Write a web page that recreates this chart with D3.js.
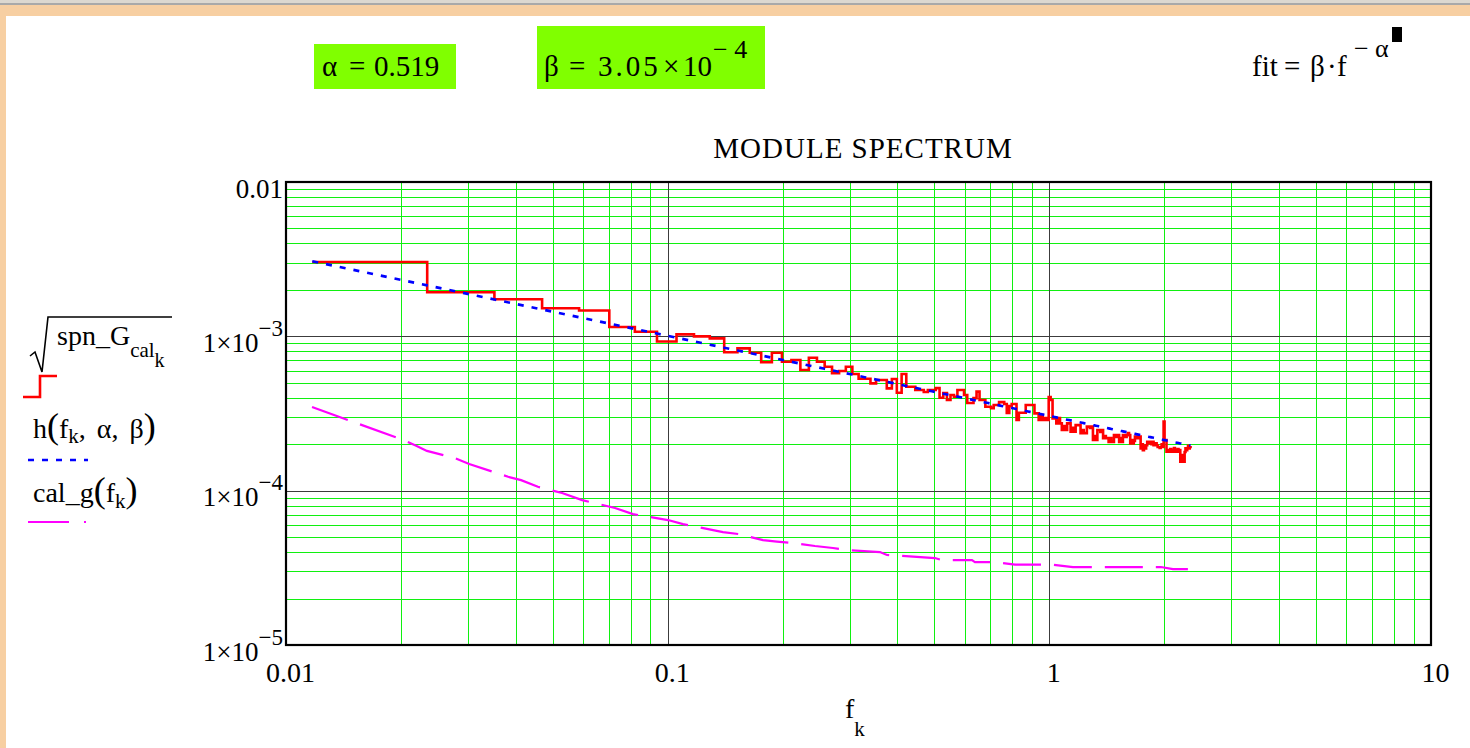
<!DOCTYPE html>
<html>
<head>
<meta charset="utf-8">
<script src="https://cdn.jsdelivr.net/npm/d3@7"></script>
<style>
  html, body { margin: 0; padding: 0; background: #fff; }
  svg { display: block; font-family: "Liberation Serif", "Times New Roman", serif; }
</style>
</head>
<body>
<svg id="chart" width="1470" height="748"></svg>
<script>
// ---- fit parameters ----
const alpha = 0.519;
const beta = 3.05e-4;

// ---- frequency grid: f_k = k * df ----
const df = 0.01172;

// sqrt(spn_G_cal_k) at each f_k, k = 1..200
const spnG = [
  3.03e-3, 1.93e-3, 1.74e-3, 1.52e-3, 1.47e-3, 1.15e-3, 1.07e-3, 9.25e-4, 1.03e-3, 1.00e-3,
  9.70e-4, 7.88e-4, 8.36e-4, 7.83e-4, 6.79e-4, 7.83e-4, 6.85e-4, 7.02e-4, 6.05e-4, 7.27e-4,
  6.85e-4, 6.35e-4, 5.76e-4, 5.96e-4, 6.35e-4, 5.70e-4, 5.31e-4, 5.31e-4, 4.96e-4, 5.21e-4,
  5.21e-4, 4.60e-4, 5.29e-4, 4.31e-4, 5.70e-4, 4.71e-4, 4.71e-4, 4.49e-4, 4.49e-4, 4.36e-4,
  4.49e-4, 4.49e-4, 4.62e-4, 4.00e-4, 4.29e-4, 3.87e-4, 4.17e-4, 4.06e-4, 4.49e-4, 4.49e-4,
  4.17e-4, 3.70e-4, 3.70e-4, 3.98e-4, 4.38e-4, 3.87e-4, 3.87e-4, 3.50e-4, 3.50e-4, 3.42e-4,
  3.59e-4, 3.59e-4, 3.75e-4, 3.75e-4, 3.64e-4, 3.19e-4, 3.53e-4, 3.64e-4, 3.64e-4, 2.87e-4,
  3.20e-4, 3.20e-4, 3.20e-4, 3.59e-4, 3.59e-4, 3.59e-4, 3.59e-4, 3.17e-4, 3.17e-4, 2.87e-4,
  3.09e-4, 2.87e-4, 2.95e-4, 2.87e-4, 4.04e-4, 3.87e-4, 2.94e-4, 2.94e-4, 2.73e-4, 2.95e-4,
  2.73e-4, 2.47e-4, 2.62e-4, 2.47e-4, 2.73e-4, 2.73e-4, 2.41e-4, 2.55e-4, 2.41e-4, 2.66e-4,
  2.66e-4, 2.66e-4, 2.36e-4, 2.47e-4, 2.36e-4, 2.36e-4, 2.60e-4, 2.60e-4, 2.55e-4, 2.60e-4,
  2.13e-4, 2.26e-4, 2.13e-4, 2.47e-4, 2.47e-4, 2.40e-4, 2.47e-4, 2.19e-4, 2.26e-4, 2.19e-4,
  2.19e-4, 2.07e-4, 2.19e-4, 2.07e-4, 2.07e-4, 2.29e-4, 2.29e-4, 2.23e-4, 2.29e-4, 2.07e-4,
  2.19e-4, 2.07e-4, 2.29e-4, 2.29e-4, 2.23e-4, 2.29e-4, 2.36e-4, 2.29e-4, 2.02e-4, 2.13e-4,
  2.02e-4, 2.10e-4, 2.24e-4, 2.24e-4, 2.19e-4, 2.24e-4, 2.24e-4, 1.88e-4, 2.00e-4, 1.83e-4,
  1.95e-4, 1.88e-4, 1.97e-4, 2.07e-4, 2.03e-4, 2.07e-4, 2.07e-4, 2.00e-4, 2.07e-4, 1.97e-4,
  1.97e-4, 2.03e-4, 1.97e-4, 1.92e-4, 1.92e-4, 1.89e-4, 1.92e-4, 2.00e-4, 1.92e-4, 2.80e-4,
  2.13e-4, 2.13e-4, 1.79e-4, 1.79e-4, 1.83e-4, 1.79e-4, 1.86e-4, 1.79e-4, 1.83e-4, 1.79e-4,
  1.89e-4, 1.79e-4, 1.83e-4, 1.79e-4, 1.86e-4, 1.79e-4, 1.83e-4, 1.54e-4, 1.70e-4, 1.54e-4,
  1.63e-4, 1.54e-4, 1.78e-4, 1.88e-4, 1.83e-4, 1.88e-4, 1.95e-4, 1.88e-4, 1.91e-4, 1.88e-4
];

// cal_g(f) calibration curve: frequencies and values
const calFreq = [0.0117, 0.0200, 0.0220, 0.0234, 0.0276, 0.0302, 0.0382, 0.0413, 0.0457, 0.0529,
                 0.0597, 0.0728, 0.0811, 0.1002, 0.1097, 0.1396, 0.1537, 0.1777, 0.1933, 0.2130,
                 0.2432, 0.2711, 0.2968, 0.3599, 0.3754, 0.5015, 0.5232, 0.6270, 0.6385, 0.7248,
                 0.8126, 1.016, 1.153, 1.961, 2.108, 2.307];
const calVal  = [3.48e-4, 2.16e-4, 1.95e-4, 1.81e-4, 1.63e-4, 1.49e-4, 1.23e-4, 1.17e-4, 1.06e-4, 9.65e-5,
                 8.69e-5, 7.72e-5, 7.05e-5, 6.45e-5, 6.07e-5, 5.39e-5, 5.23e-5, 4.78e-5, 4.68e-5, 4.58e-5,
                 4.38e-5, 4.25e-5, 4.12e-5, 4.00e-5, 3.83e-5, 3.66e-5, 3.55e-5, 3.55e-5, 3.44e-5, 3.44e-5,
                 3.32e-5, 3.32e-5, 3.20e-5, 3.20e-5, 3.10e-5, 3.10e-5];

// axis domains and tick labels
const xDomain = [0.01, 10];
const yDomain = [1e-5, 1e-2];
const xTickValues = [0.01, 0.1, 1, 10];
const xTickLabels = ["0.01", "0.1", "1", "10"];
const yTickValues = [1e-5, 1e-4, 1e-3, 1e-2];
const yTickBase = ["1\u00D710", "1\u00D710", "1\u00D710", "0.01"];
const yTickExp  = ["\u22125", "\u22124", "\u22123", ""];

const chartTitle = "MODULE SPECTRUM";

// ---------------------------------------------------------------
const W = 1470, H = 748;
const svg = d3.select("#chart");

// window frame
svg.append("rect").attr("width", W).attr("height", H).attr("fill", "#f7cfa2");
svg.append("rect").attr("width", W).attr("height", 3).attr("fill", "#dcd8d0");
svg.append("rect").attr("y", 3).attr("width", W).attr("height", 2).attr("fill", "#a9a9a9");
svg.append("rect").attr("x", 6).attr("y", 16).attr("width", W - 6).attr("height", H - 16).attr("fill", "#fff");

const P = { l: 286, r: 1431, t: 182, b: 645 };
const x = d3.scaleLog().domain(xDomain).range([P.l, P.r]);
const y = d3.scaleLog().domain(yDomain).range([P.b, P.t]);

// ---- grid ----
const grid = svg.append("g").attr("shape-rendering", "crispEdges");
const isDecade = v => Math.abs(Math.log10(v) - Math.round(Math.log10(v))) < 1e-9;
const xt = x.ticks().filter(v => v > xDomain[0] * 1.0001 && v < xDomain[1] * 0.9999);
const yt = y.ticks().filter(v => v > yDomain[0] * 1.0001 && v < yDomain[1] * 0.9999);
const minorColor = "#10f010", majorColor = "#3c3c3c";

grid.append("g").selectAll("line").data(xt.filter(v => !isDecade(v))).join("line")
  .attr("x1", d => Math.round(x(d)) + 0.5).attr("x2", d => Math.round(x(d)) + 0.5)
  .attr("y1", P.t).attr("y2", P.b).attr("stroke", minorColor).attr("stroke-width", 1);
grid.append("g").selectAll("line").data(yt.filter(v => !isDecade(v))).join("line")
  .attr("y1", d => Math.round(y(d)) + 0.5).attr("y2", d => Math.round(y(d)) + 0.5)
  .attr("x1", P.l).attr("x2", P.r).attr("stroke", minorColor).attr("stroke-width", 1);
grid.append("g").selectAll("line").data(xt.filter(isDecade)).join("line")
  .attr("x1", d => Math.round(x(d)) + 0.5).attr("x2", d => Math.round(x(d)) + 0.5)
  .attr("y1", P.t).attr("y2", P.b).attr("stroke", majorColor).attr("stroke-width", 1);
grid.append("g").selectAll("line").data(yt.filter(isDecade)).join("line")
  .attr("y1", d => Math.round(y(d)) + 0.5).attr("y2", d => Math.round(y(d)) + 0.5)
  .attr("x1", P.l).attr("x2", P.r).attr("stroke", majorColor).attr("stroke-width", 1);

// ---- series ----
const freqs = spnG.map((_, i) => (i + 1) * df);
const measured = freqs.map((f, i) => [f, spnG[i]]);
const fitted = freqs.map(f => [f, beta * Math.pow(f, -alpha)]);
const calib = calFreq.map((f, i) => [f, calVal[i]]);

svg.append("clipPath").attr("id", "plotClip")
  .append("rect").attr("x", P.l).attr("y", P.t).attr("width", P.r - P.l).attr("height", P.b - P.t);
const series = svg.append("g").attr("clip-path", "url(#plotClip)");

const line = d3.line().x(d => x(d[0])).y(d => y(d[1]));
const stepLine = d3.line().curve(d3.curveStepAfter).x(d => x(d[0])).y(d => y(d[1]));

series.append("path").datum(calib).attr("d", line)
  .attr("fill", "none").attr("stroke", "#ff00ff").attr("stroke-width", 2.2)
  .attr("stroke-dasharray", "38,13");
series.append("path").datum(measured).attr("d", stepLine)
  .attr("fill", "none").attr("stroke", "#ff0000").attr("stroke-width", 2.6)
  .attr("stroke-linejoin", "miter");
series.append("path").datum(fitted).attr("d", line)
  .attr("fill", "none").attr("stroke", "#0000ff").attr("stroke-width", 2.6)
  .attr("stroke-dasharray", "6,8");

// ---- plot border ----
svg.append("rect").attr("x", P.l).attr("y", P.t).attr("width", P.r - P.l).attr("height", P.b - P.t)
  .attr("fill", "none").attr("stroke", "#000").attr("stroke-width", 2.2);

// ---- axes (labels only) ----
const gy = svg.append("g").attr("transform", `translate(${P.l},0)`)
  .call(d3.axisLeft(y).tickValues(yTickValues).tickSize(0).tickPadding(3).tickFormat(() => ""));
gy.attr("font-family", null).attr("font-size", 27);
gy.select(".domain").remove();
gy.selectAll(".tick text").attr("fill", "#000").attr("dy", "0.56em").each(function (d, i) {
  const t = d3.select(this);
  t.text(null);
  t.append("tspan").text(yTickBase[i]);
  if (yTickExp[i]) t.append("tspan").attr("font-size", 23).attr("dy", -16).text(yTickExp[i]);
});

const gx = svg.append("g").attr("transform", `translate(0,${P.b})`)
  .call(d3.axisBottom(x).tickValues(xTickValues).tickSize(0).tickFormat((d, i) => xTickLabels[i]));
gx.attr("font-family", null).attr("font-size", 28);
gx.select(".domain").remove();
gx.selectAll(".tick text").attr("fill", "#000").attr("dy", null).attr("y", 37).attr("dx", 4);

// axis title f_k
const xTitle = svg.append("text").attr("x", 845).attr("y", 718).attr("font-size", 28);
xTitle.append("tspan").text("f");
xTitle.append("tspan").attr("font-size", 21).attr("dy", 18).text("k");

// chart title
svg.append("text").attr("x", 863).attr("y", 158).attr("text-anchor", "middle")
  .attr("font-size", 29).attr("letter-spacing", 1).text(chartTitle);

// ---- parameter boxes ----
svg.append("rect").attr("x", 314).attr("y", 44).attr("width", 142).attr("height", 45).attr("fill", "#80ff00");
const ta = svg.append("text").attr("y", 76).attr("font-size", 29);
ta.append("tspan").attr("x", 322).text("\u03B1");
ta.append("tspan").attr("x", 349).text("=");
ta.append("tspan").attr("x", 374).text(d3.format(".3f")(alpha));

svg.append("rect").attr("x", 537).attr("y", 26).attr("width", 228).attr("height", 63).attr("fill", "#80ff00");
const tb = svg.append("text").attr("y", 76).attr("font-size", 29);
const bExp = Math.floor(Math.log10(beta));
tb.append("tspan").attr("x", 544).text("\u03B2");
tb.append("tspan").attr("x", 569).text("=");
tb.append("tspan").attr("x", 598).attr("letter-spacing", 3).text(d3.format(".2f")(beta / Math.pow(10, bExp)));
tb.append("tspan").attr("x", 663).text("\u00D7");
tb.append("tspan").attr("x", 683).text("10");
tb.append("tspan").attr("x", 713).attr("dy", -18).attr("font-size", 26).text("\u2212 " + (-bExp));

// fit formula
const tf = svg.append("text").attr("y", 76).attr("font-size", 29);
tf.append("tspan").attr("x", 1252).text("fit");
tf.append("tspan").attr("x", 1284).text("=");
tf.append("tspan").attr("x", 1310).text("\u03B2");
tf.append("tspan").attr("x", 1327).text("\u00B7");
tf.append("tspan").attr("x", 1337).text("f");
tf.append("tspan").attr("x", 1354).attr("dy", -19).attr("font-size", 26).text("\u2212");
tf.append("tspan").attr("x", 1375).attr("font-size", 26).text("\u03B1");
svg.append("rect").attr("x", 1392).attr("y", 27).attr("width", 10).attr("height", 15).attr("fill", "#000");

// ---- legend ----
const lg = svg.append("g");
// sqrt(spn_G_cal_k)
lg.append("path").attr("d", "M30,356 L35,352 L42,372 L48,317 L172,317")
  .attr("fill", "none").attr("stroke", "#000").attr("stroke-width", 1.6);
const l1 = lg.append("text").attr("x", 57).attr("y", 345).attr("font-size", 28);
l1.append("tspan").text("spn_G");
l1.append("tspan").attr("font-size", 21).attr("dy", 12).text("cal");
l1.append("tspan").attr("font-size", 20).attr("dy", 10).text("k");
lg.append("path").attr("d", "M23,397 L40,397 L40,376 L57,376")
  .attr("fill", "none").attr("stroke", "#ff0000").attr("stroke-width", 2.6);

// h(f_k, alpha, beta)
const l2 = lg.append("text").attr("x", 33).attr("y", 438).attr("font-size", 28);
l2.append("tspan").text("h");
l2.append("tspan").attr("font-size", 36).text("(");
l2.append("tspan").text("f");
l2.append("tspan").attr("font-size", 21).attr("dy", 5).text("k");
l2.append("tspan").attr("dy", -5).attr("word-spacing", 4).text(", \u03B1, \u03B2");
l2.append("tspan").attr("font-size", 36).text(")");
lg.append("line").attr("x1", 28).attr("x2", 88).attr("y1", 460).attr("y2", 460)
  .attr("stroke", "#0000ff").attr("stroke-width", 2.6).attr("stroke-dasharray", "6,8");

// cal_g(f_k)
const l3 = lg.append("text").attr("x", 33).attr("y", 502).attr("font-size", 28);
l3.append("tspan").text("cal_g");
l3.append("tspan").attr("font-size", 36).text("(");
l3.append("tspan").text("f");
l3.append("tspan").attr("font-size", 21).attr("dy", 6).text("k");
l3.append("tspan").attr("dy", -6).attr("font-size", 36).text(")");
lg.append("line").attr("x1", 28).attr("x2", 88).attr("y1", 522).attr("y2", 522)
  .attr("stroke", "#ff00ff").attr("stroke-width", 2.2).attr("stroke-dasharray", "41,15,2,40");
</script>
</body>
</html>
